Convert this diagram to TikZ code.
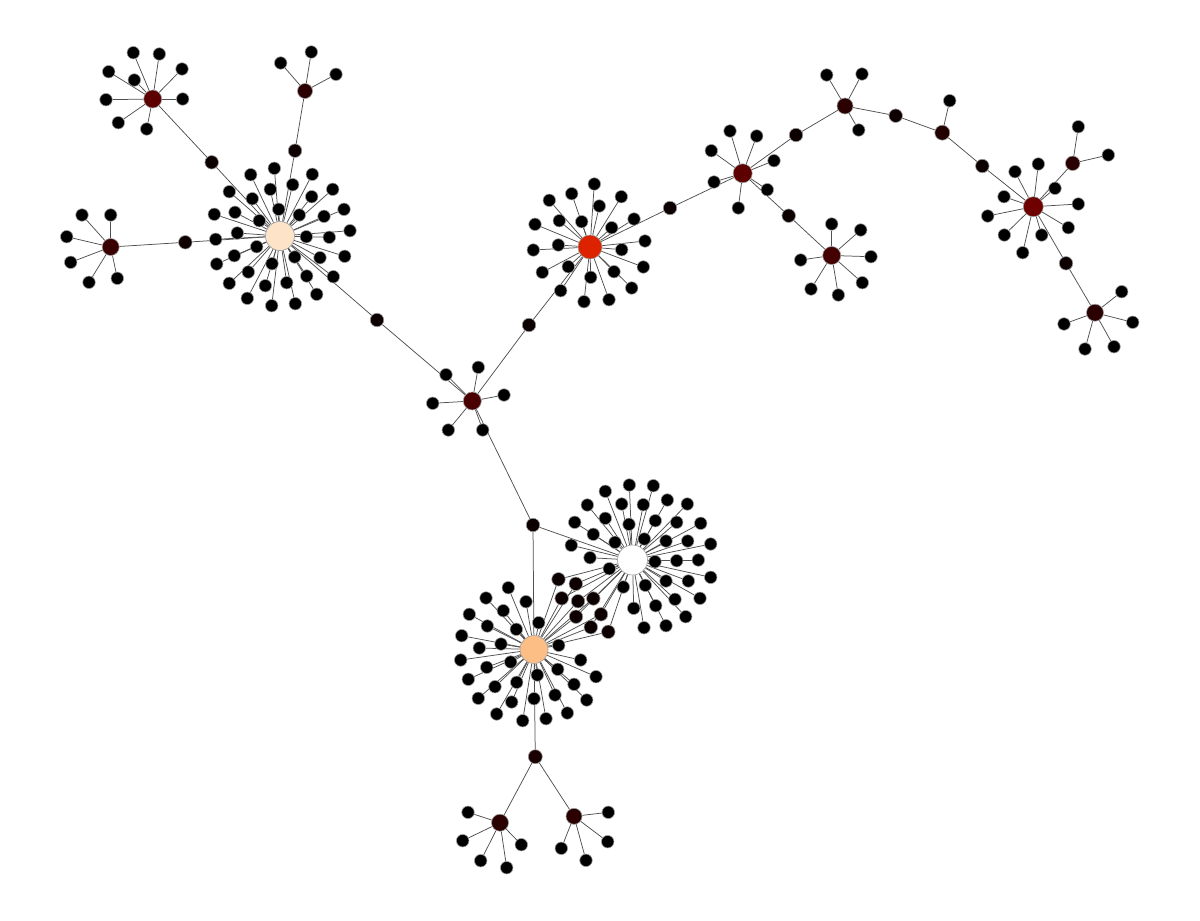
\documentclass[tikz,border=0pt]{standalone}
\usetikzlibrary{backgrounds}
\definecolor{hubA}{HTML}{FDE3C8}
\definecolor{hubB}{HTML}{DD2200}
\definecolor{hubD}{HTML}{FDBE85}
\definecolor{edgec}{HTML}{505050}
\definecolor{rimc}{HTML}{9A9A9A}
\tikzset{
  gnode/.style={circle,draw=rimc,line width=0.6pt,inner sep=0pt},
  leaf/.style={gnode,fill=black,minimum size=12.5pt},
  mid/.style={gnode,fill={rgb,255:red,12;green,0;blue,0},minimum size=13.5pt},
  edge/.style={draw=edgec,line width=0.75pt},
}
\newcommand{\hubleaves}[2]{%
  \foreach \px/\py [count=\i] in {#2} {
    \node[leaf] (#1L\i) at (\px,\py) {};
    \begin{pgfonlayer}{background}\draw[edge] (#1) -- (#1L\i);\end{pgfonlayer}
  }}
\begin{document}
\begin{tikzpicture}[x=1pt,y=-1pt]
\useasboundingbox (0,0) rectangle (1200,921);
% hubs
\node[gnode,fill=hubA,minimum size=29pt] (A) at (280,236) {};
\node[gnode,fill=hubB,minimum size=24pt] (B) at (590,247) {};
\node[gnode,fill=white,minimum size=30pt] (C) at (632.5,560) {};
\node[gnode,fill=hubD,minimum size=28pt] (D) at (534,649.5) {};
\node[gnode,fill={rgb,255:red,74;green,0;blue,0},minimum size=18pt] (H) at (472.3,401) {};
\node[gnode,fill={rgb,255:red,92;green,0;blue,0},minimum size=18pt] (P) at (152.7,99) {};
\node[gnode,fill={rgb,255:red,42;green,0;blue,0},minimum size=15pt] (Q) at (305,91) {};
\node[gnode,fill={rgb,255:red,58;green,0;blue,0},minimum size=17pt] (R) at (110.7,247) {};
\node[gnode,fill={rgb,255:red,92;green,0;blue,0},minimum size=19pt] (S) at (742.7,173.3) {};
\node[gnode,fill={rgb,255:red,42;green,0;blue,0},minimum size=16pt] (T) at (845,106) {};
\node[gnode,fill={rgb,255:red,34;green,0;blue,0},minimum size=15pt] (U) at (942.3,132.7) {};
\node[gnode,fill={rgb,255:red,110;green,0;blue,0},minimum size=20pt] (V) at (1033.3,206.7) {};
\node[gnode,fill={rgb,255:red,42;green,0;blue,0},minimum size=14.5pt] (W) at (1072.7,163.3) {};
\node[gnode,fill={rgb,255:red,42;green,0;blue,0},minimum size=17pt] (X) at (1095,312.7) {};
\node[gnode,fill={rgb,255:red,68;green,0;blue,0},minimum size=18pt] (Y) at (831.7,255.5) {};
\node[gnode,fill={rgb,255:red,26;green,0;blue,0},minimum size=14pt] (Z) at (535.3,756.7) {};
\node[gnode,fill={rgb,255:red,42;green,0;blue,0},minimum size=17pt] (Za) at (500,822.7) {};
\node[gnode,fill={rgb,255:red,42;green,0;blue,0},minimum size=16pt] (Zb) at (574,816.3) {};
% intermediate nodes
\node[mid] (i1) at (211.7,162.3) {};
\node[mid] (i2) at (185.3,242.3) {};
\node[mid] (i3) at (295,150.7) {};
\node[mid] (i4) at (377,320) {};
\node[mid] (i5) at (529,325) {};
\node[mid] (i6) at (670,208) {};
\node[mid] (i7) at (796,135) {};
\node[mid] (i8) at (788.7,215.7) {};
\node[mid] (i9) at (895.7,115.7) {};
\node[mid] (i10) at (982.3,166) {};
\node[mid] (i11) at (1066,263.3) {};
\node[mid] (i12) at (533,525) {};
% nodes shared by C and D
\foreach \px/\py [count=\i] in {558.5/579.3, 575.8/583.8, 561.7/598.3, 578/601.2, 593.3/598.5, 576/616.7, 601/614.3, 590.8/627.2, 608.3/631.8} {
  \node[mid] (E\i) at (\px,\py) {};
  \begin{pgfonlayer}{background}\draw[edge] (C) -- (E\i) -- (D);\end{pgfonlayer}
}
% backbone edges
\begin{pgfonlayer}{background}
\draw[edge] (P) -- (i1) -- (A);
\draw[edge] (R) -- (i2) -- (A);
\draw[edge] (Q) -- (i3) -- (A);
\draw[edge] (A) -- (i4) -- (H);
\draw[edge] (H) -- (i5) -- (B);
\draw[edge] (B) -- (i6) -- (S);
\draw[edge] (S) -- (i7) -- (T);
\draw[edge] (S) -- (i8) -- (Y);
\draw[edge] (T) -- (i9) -- (U);
\draw[edge] (U) -- (i10) -- (V);
\draw[edge] (V) -- (i11) -- (X);
\draw[edge] (V) -- (W);
\draw[edge] (H) -- (i12);
\draw[edge] (i12) -- (C);
\draw[edge] (i12) -- (D);
\draw[edge] (D) -- (Z);
\draw[edge] (Z) -- (Za);
\draw[edge] (Z) -- (Zb);
\end{pgfonlayer}
% leaves
\hubleaves{A}{274.3/168.3, 250.7/174.7, 312.3/174.3, 229.3/191.7, 270.3/189.3, 292.7/184.7, 332.7/189.3, 252.3/198.7, 311.7/196.7, 344/209.3, 214.3/214.3, 235/212.3, 278.7/209.3, 259.3/220.7, 299.3/215, 324/216.3, 350/230.7, 237.3/233, 215.7/239.3, 306.3/236.7, 329.3/237.3, 344.7/256.3, 256.7/246.7, 234.3/255.7, 216.7/264, 294.7/257, 320/257.7, 272/263.7, 248.3/272, 306.7/276, 333.3/276.7, 229.3/283.3, 265.3/285.7, 286.7/282.7, 316.7/294.3, 247.3/298.3, 271.7/305.7, 295.3/303.7}
\hubleaves{B}{594.3/184, 571.7/193.7, 549.3/200.3, 621.3/196.7, 599.3/206, 559.3/220.7, 581.7/221.7, 634/219, 535/224.3, 611.7/227.7, 558.3/245, 533.3/250, 645/241, 621.7/249.7, 568.3/266.7, 542.3/272.3, 614/271.7, 643.3/267, 590.7/277.3, 560.7/290.7, 631.7/288, 584/301.7, 609/299.7}
\hubleaves{C}{629.3/485, 653.3/485.7, 605.3/491.3, 667.3/500, 587.3/505, 621.7/504, 643.3/504.7, 687.3/504, 605.3/518.3, 655.3/520.7, 574.7/522.3, 676.7/522.3, 700.7/523.3, 593.3/534.3, 629/524.3, 644.3/539, 615/542.3, 666/541, 687.7/541, 710.7/544, 571.3/545.3, 590/557.7, 655/561.7, 676.7/560.7, 698.3/560, 609.3/568.7, 666/581, 688.3/581, 710.7/577.3, 645.3/585.3, 623.3/587, 675/599.3, 700/598.3, 655.7/605.7, 633.7/608.3, 685.7/616.7, 644/627.7, 666/625.7}
\hubleaves{D}{508.3/587.7, 486/598, 526/601.7, 503.3/610.7, 469.3/614.3, 487.3/626, 516.3/629.3, 538.7/622.7, 461.7/635.7, 501/644, 479.3/648, 558.7/645.3, 460.7/660, 510.7/662, 580.7/660, 486.7/667.3, 557.7/669.3, 468.3/679.3, 537.3/675, 596/676.7, 516.7/682.3, 495/686.7, 574/684.3, 555/695, 534/698.7, 478.3/698.3, 586.7/700, 511.7/702, 496.7/714, 567.3/713, 522.7/720.7, 546/718.7}
\hubleaves{H}{446/374.7, 478.3/367.3, 504/395, 432.7/403.3, 448.3/430, 482.7/430}
\hubleaves{P}{133.3/52.7, 159.3/54, 108.7/71.7, 134.3/80, 182/69, 106/99.7, 182.7/99, 118.3/122.7, 146.7/129}
\hubleaves{Q}{280.7/63, 311.3/52, 336/74.3}
\hubleaves{R}{82/215, 110.7/215, 66.7/236.7, 70.7/262.3, 89/282.3, 117.3/278.3}
\hubleaves{S}{730/131, 756.7/136, 711.3/150.7, 774/160.7, 714/182, 767.3/189.7, 738.3/208}
\hubleaves{T}{826.7/75, 862/74, 858.7/130}
\hubleaves{U}{949.7/100.7}
\hubleaves{V}{1015/171.7, 1038.3/164, 1055/188.3, 1004/196.7, 1078.3/204, 987.7/216, 1068.3/227.7, 1004.3/235, 1041.7/235, 1022.7/252.7}
\hubleaves{W}{1078.3/126.7, 1108.3/155}
\hubleaves{X}{1121.7/291.7, 1064/324, 1132.7/322.3, 1085/349, 1114/346.7}
\hubleaves{Y}{831.7/224, 860.7/230, 800.7/260, 871/256.7, 811/289, 862.3/282.7, 838.3/295}
\hubleaves{Za}{468/812.3, 462.7/840.7, 480.7/860.7, 506.7/867.7, 521.3/844.7}
\hubleaves{Zb}{608.3/812.3, 607.7/841.7, 561.3/848.3, 586/860.3}
\end{tikzpicture}
\end{document}
